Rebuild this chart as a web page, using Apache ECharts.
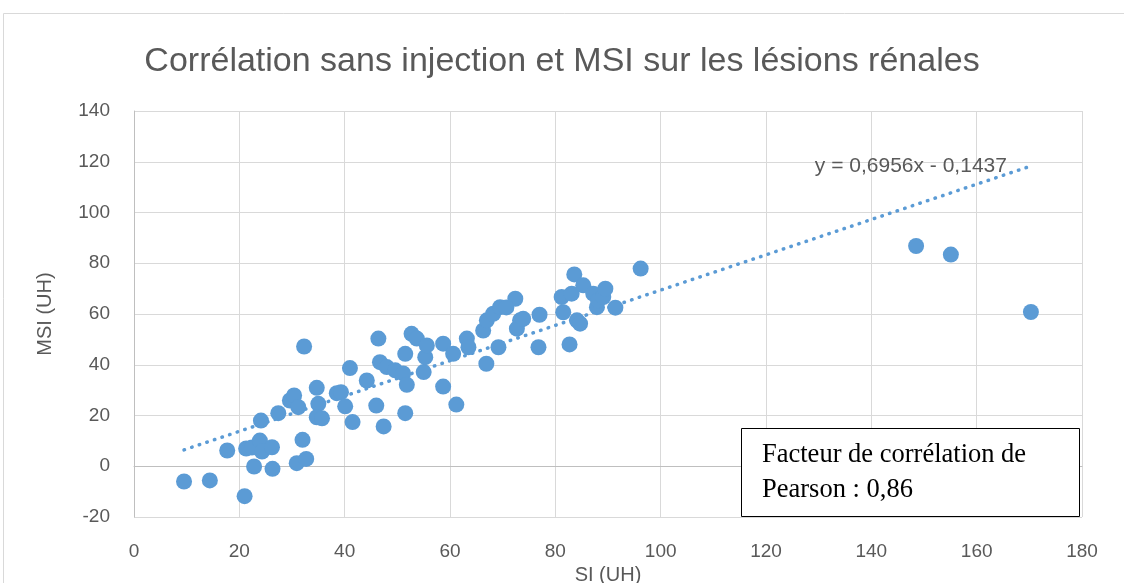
<!DOCTYPE html>
<html>
<head>
<meta charset="utf-8">
<script src="https://cdn.jsdelivr.net/npm/echarts@6/dist/echarts.min.js"></script>
<style>
  html, body { margin: 0; padding: 0; background: #fff; }
  #chart { width: 1124px; height: 583px; }
</style>
</head>
<body>
<div id="chart"></div>
<script>
// SI (UH) values
const siValues = [
  9.5, 14.4, 17.7, 21.0, 21.3, 22.4, 23.9, 24.3, 26.2, 22.8,
  26.3, 24.1, 27.4, 29.6, 30.4, 31.2, 32.0, 30.9, 32.7, 32.3,
  34.7, 35.0, 34.7, 35.7, 38.5, 39.3, 40.1, 41.0, 41.5, 44.2,
  46.0, 46.4, 46.7, 47.4, 48.0, 49.6, 51.1, 51.5, 51.5, 51.8,
  52.7, 53.7, 55.0, 55.3, 55.6, 58.7, 58.7, 60.6, 61.2, 63.2,
  63.5, 66.3, 67.0, 68.2, 69.5, 66.9, 69.2, 72.4, 73.3, 72.7,
  73.9, 77.0, 76.8, 70.7, 81.2, 81.5, 82.7, 83.1, 83.6, 84.1,
  84.7, 85.3, 87.2, 87.9, 88.1, 89.1, 89.5, 91.4, 96.2, 148.5,
  155.1, 170.3
];
// MSI (UH) values, same order
const msiValues = [
  -6.0, -5.6, 6.2, -11.8, 7.0, 7.4, 10.1, 5.8, 7.5, -0.1,
  -1.0, 18.0, 20.9, 25.9, 27.9, 23.3, 10.4, 1.2, 2.9, 47.2,
  30.9, 24.6, 19.3, 18.9, 28.8, 29.2, 23.6, 38.7, 17.4, 33.8,
  23.9, 50.3, 41.0, 15.7, 39.1, 37.8, 36.6, 44.3, 20.9, 32.1,
  52.2, 50.3, 37.1, 43.0, 47.6, 48.3, 31.4, 44.3, 24.3, 50.3,
  46.9, 53.5, 57.5, 60.1, 62.7, 40.4, 46.9, 66.0, 57.5, 54.2,
  58.1, 59.7, 46.9, 62.6, 66.7, 60.7, 48.0, 68.0, 75.6, 57.5,
  56.2, 71.3, 68.0, 62.7, 65.4, 66.7, 70.0, 62.5, 77.9, 86.8,
  83.4, 60.8
];
const slope = 0.6956;
const intercept = -0.1437;
const equationText = 'y = 0,6956x - 0,1437';
const pearsonLines = ['Facteur de corrélation de', 'Pearson : 0,86'];

const points = siValues.map((x, i) => [x, msiValues[i]]);
const xMin = Math.min(...siValues);
const xMax = Math.max(...siValues);
const trend = [
  [xMin, slope * xMin + intercept],
  [xMax, slope * xMax + intercept]
];

const grey = '#595959';
const blue = '#5b9bd5';
const font = 'Liberation Sans';

const chart = echarts.init(document.getElementById('chart'));
chart.setOption({
  animation: false,
  title: {
    text: 'Corrélation sans injection et MSI sur les lésions rénales',
    left: 'center',
    top: 40,
    textStyle: { fontFamily: font, fontSize: 34, fontWeight: 'normal', color: grey }
  },
  grid: { left: 134, right: 42, top: 111, bottom: 66, outerBoundsMode: 'none' },
  xAxis: {
    type: 'value',
    min: 0, max: 180, interval: 20,
    name: 'SI (UH)',
    nameLocation: 'middle',
    nameGap: 44,
    nameTextStyle: { fontFamily: font, fontSize: 20, color: grey },
    axisLine: { show: true, lineStyle: { color: '#bfbfbf' } },
    axisTick: { show: false },
    axisLabel: { margin: 25, fontFamily: font, fontSize: 19, color: grey },
    splitLine: { show: true, lineStyle: { color: '#d9d9d9', width: 1 } }
  },
  yAxis: {
    type: 'value',
    min: -20, max: 140, interval: 20,
    name: 'MSI (UH)',
    nameLocation: 'middle',
    nameGap: 79,
    nameTextStyle: { fontFamily: font, fontSize: 20, color: grey },
    axisLine: { show: true, lineStyle: { color: '#bfbfbf' } },
    axisTick: { show: false },
    axisLabel: { margin: 24, fontFamily: font, fontSize: 19, color: grey },
    splitLine: { show: true, lineStyle: { color: '#d9d9d9', width: 1 } }
  },
  series: [
    {
      type: 'scatter',
      data: points,
      symbol: 'circle',
      symbolSize: 16,
      itemStyle: { color: blue, opacity: 1 }
    },
    {
      type: 'line',
      data: [
        trend[0],
        {
          value: trend[1],
          label: {
            show: true,
            position: 'left',
            distance: 24,
            formatter: equationText,
            fontFamily: font,
            fontSize: 21,
            color: grey
          }
        }
      ],
      showSymbol: true,
      symbol: 'circle',
      symbolSize: 0,
      lineStyle: { color: blue, width: 3.5, type: [0.5, 7.5], cap: 'round' },
      z: 1
    }
  ],
  graphic: [
    {
      type: 'rect',
      silent: true,
      shape: { x: 3.5, y: 13.5, width: 1200, height: 700 },
      style: { fill: 'none', stroke: '#d9d9d9', lineWidth: 1 }
    },
    {
      type: 'rect',
      silent: true,
      z: 100,
      shape: { x: 741.5, y: 428.5, width: 338, height: 88 },
      style: { fill: '#fff', stroke: '#000', lineWidth: 1 }
    },
    {
      type: 'text',
      silent: true,
      z: 101,
      left: 762,
      top: 438,
      style: {
        text: pearsonLines.join('\n'),
        fontFamily: 'Liberation Serif',
        fontSize: 26.5,
        lineHeight: 35,
        fill: '#000'
      }
    }
  ]
});
</script>
</body>
</html>
